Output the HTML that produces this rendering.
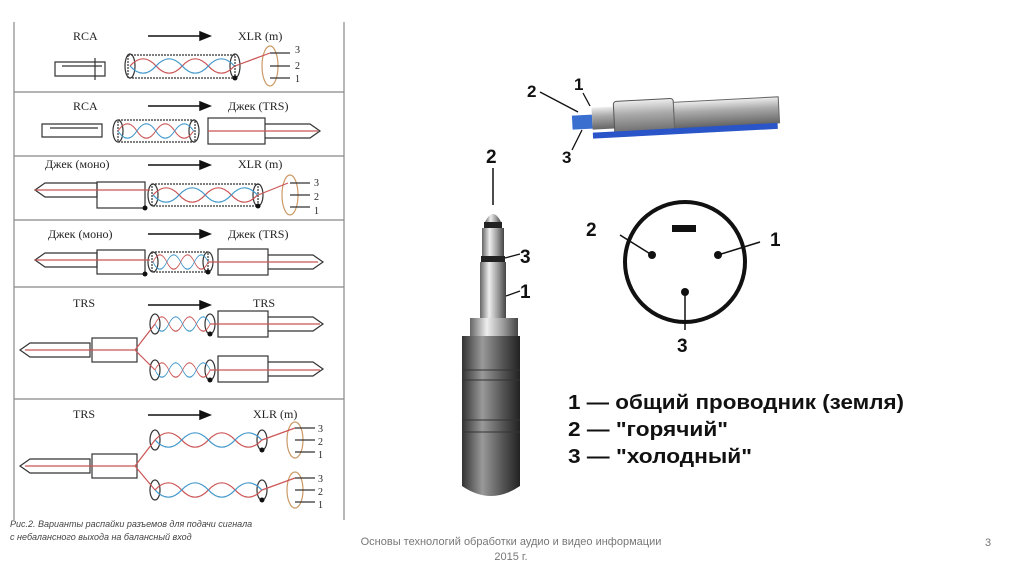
<!DOCTYPE html>
<html><head><meta charset="utf-8"><style>
body{margin:0;background:#fff;width:1024px;height:574px;overflow:hidden;font-family:"Liberation Sans",sans-serif}
svg{position:absolute;left:0;top:0}
.t{font-family:"Liberation Serif",serif;font-size:12px;fill:#222}
.n{font-family:"Liberation Sans",sans-serif;font-size:19px;font-weight:bold;fill:#111}
</style></head><body>
<svg width="1024" height="574" viewBox="0 0 1024 574">
<defs>
<linearGradient id="met" x1="0" x2="1"><stop offset="0" stop-color="#666"/><stop offset=".35" stop-color="#eee"/><stop offset=".7" stop-color="#999"/><stop offset="1" stop-color="#444"/></linearGradient>
<linearGradient id="dk" x1="0" x2="1"><stop offset="0" stop-color="#333"/><stop offset=".35" stop-color="#999"/><stop offset=".7" stop-color="#555"/><stop offset="1" stop-color="#222"/></linearGradient>
<linearGradient id="hm" x1="0" y1="0" x2="0" y2="1"><stop offset="0" stop-color="#eee"/><stop offset=".4" stop-color="#aaa"/><stop offset="1" stop-color="#666"/></linearGradient>
<g id="w1"><path d="M0,0 c10,-12 20,-12 30,0 s20,12 30,0 s20,-12 30,0 s20,12 30,0" stroke="#c55" fill="none" stroke-width="1.5"/><path d="M0,0 c10,12 20,12 30,0 s20,-12 30,0 s20,12 30,0 s20,-12 30,0" stroke="#49c" fill="none" stroke-width="1.5"/></g>
</defs>
<g stroke="#888" stroke-width="1.2">
<line x1="14" y1="22" x2="14" y2="520"/><line x1="344" y1="22" x2="344" y2="520"/>
<line x1="14" y1="92" x2="344" y2="92"/><line x1="14" y1="156" x2="344" y2="156"/>
<line x1="14" y1="220" x2="344" y2="220"/><line x1="14" y1="287" x2="344" y2="287"/>
<line x1="14" y1="399" x2="344" y2="399"/>
</g>
<g class="t">
<text x="73" y="40">RCA</text><text x="238" y="40">XLR (m)</text>
<text x="73" y="110">RCA</text><text x="228" y="110">Джек (TRS)</text>
<text x="45" y="168">Джек (моно)</text><text x="238" y="168">XLR (m)</text>
<text x="48" y="238">Джек (моно)</text><text x="228" y="238">Джек (TRS)</text>
<text x="73" y="307">TRS</text><text x="253" y="307">TRS</text>
<text x="73" y="418">TRS</text><text x="253" y="418">XLR (m)</text>
</g>
<g stroke="#111" stroke-width="1.5" fill="#111">
<line x1="148" y1="36" x2="200" y2="36"/><path d="M200,32 L210,36 L200,40Z"/>
<line x1="148" y1="106" x2="200" y2="106"/><path d="M200,102 L210,106 L200,110Z"/>
<line x1="148" y1="165" x2="200" y2="165"/><path d="M200,161 L210,165 L200,169Z"/>
<line x1="148" y1="234" x2="200" y2="234"/><path d="M200,230 L210,234 L200,238Z"/>
<line x1="148" y1="305" x2="200" y2="305"/><path d="M200,301 L210,305 L200,309Z"/>
<line x1="148" y1="415" x2="200" y2="415"/><path d="M200,411 L210,415 L200,419Z"/>
</g>
<g stroke="#333" fill="none" stroke-width="1.2">
<path d="M55,62 h50 v14 h-50 z M62,66 h40 M95,58 v22"/><rect x="128" y="55" width="107" height="23" stroke-dasharray="2,1"/>
<ellipse cx="130" cy="66" rx="5" ry="12"/><ellipse cx="235" cy="66" rx="5" ry="12"/>
<ellipse cx="270" cy="66" rx="8" ry="20" stroke="#c96"/>
<path d="M270,53 h20 M270,66 h20 M270,78 h20"/>
<path d="M42,124 h60 v13 h-60 z M50,128 h48"/><rect x="118" y="120" width="77" height="22" stroke-dasharray="2,1"/>
<ellipse cx="118" cy="131" rx="5" ry="11"/><ellipse cx="194" cy="131" rx="5" ry="11"/>
<rect x="208" y="118" width="57" height="26"/><path d="M265,124 h45 l10,7 l-10,7 h-45"/>
<path d="M35,190 l10,-7 h52 v14 h-52z"/><rect x="97" y="182" width="48" height="26"/>
<rect x="152" y="184" width="106" height="22" stroke-dasharray="2,1"/>
<ellipse cx="153" cy="195" rx="5" ry="11"/><ellipse cx="258" cy="195" rx="5" ry="11"/>
<ellipse cx="290" cy="195" rx="8" ry="20" stroke="#c96"/><path d="M290,183 h20 M290,195 h20 M290,207 h20"/>
<path d="M35,260 l10,-7 h52 v14 h-52z"/><rect x="97" y="250" width="48" height="24"/>
<rect x="152" y="252" width="56" height="20" stroke-dasharray="2,1"/>
<ellipse cx="153" cy="262" rx="5" ry="10"/><ellipse cx="208" cy="262" rx="5" ry="10"/>
<rect x="218" y="249" width="50" height="26"/><path d="M268,255 h45 l10,7 l-10,7 h-45"/>
<path d="M20,350 l10,-7 h60 v14 h-60z"/><rect x="92" y="338" width="45" height="24"/>
<rect x="218" y="311" width="50" height="26"/><path d="M268,317 h45 l10,7 l-10,7 h-45"/>
<rect x="218" y="356" width="50" height="26"/><path d="M268,362 h45 l10,7 l-10,7 h-45"/>
<ellipse cx="155" cy="324" rx="5" ry="10"/><ellipse cx="210" cy="324" rx="5" ry="10"/>
<ellipse cx="155" cy="370" rx="5" ry="10"/><ellipse cx="210" cy="370" rx="5" ry="10"/>
<path d="M20,466 l10,-7 h60 v14 h-60z"/><rect x="92" y="454" width="45" height="24"/>
<ellipse cx="155" cy="440" rx="5" ry="10"/><ellipse cx="262" cy="440" rx="5" ry="10"/>
<ellipse cx="155" cy="490" rx="5" ry="10"/><ellipse cx="262" cy="490" rx="5" ry="10"/>
<ellipse cx="295" cy="440" rx="8" ry="18" stroke="#c96"/><ellipse cx="295" cy="490" rx="8" ry="18" stroke="#c96"/>
<path d="M295,428 h20 M295,440 h20 M295,452 h20 M295,478 h20 M295,490 h20 M295,502 h20"/>
</g>
<use href="#w1" transform="translate(130,66) scale(0.87,0.8)"/>
<use href="#w1" transform="translate(118,131) scale(0.63,0.8)"/>
<use href="#w1" transform="translate(153,195) scale(0.87,0.8)"/>
<use href="#w1" transform="translate(153,262) scale(0.46,0.8)"/>
<use href="#w1" transform="translate(155,324) scale(0.46,0.8)"/>
<use href="#w1" transform="translate(155,370) scale(0.46,0.8)"/>
<use href="#w1" transform="translate(155,440) scale(0.89,0.8)"/>
<use href="#w1" transform="translate(155,490) scale(0.89,0.8)"/>
<g stroke="#c55" fill="none" stroke-width="1.2">
<path d="M25,350 h110 l20,-26 M135,350 l20,20"/><path d="M25,466 h110 l20,-26 M135,466 l20,24"/>
<path d="M210,324 h110"/><path d="M210,370 h110"/><path d="M208,131 h110"/><path d="M35,190 h115 M258,195 l30,-12"/><path d="M35,260 h115 M208,262 h110"/>
<path d="M235,66 l35,-13 M262,440 l33,-12 M262,490 l33,-12"/>
</g>
<g fill="#111"><circle cx="235" cy="78" r="2.5"/><circle cx="145" cy="208" r="2.5"/><circle cx="258" cy="206" r="2.5"/><circle cx="145" cy="274" r="2.5"/><circle cx="208" cy="272" r="2.5"/><circle cx="210" cy="334" r="2.5"/><circle cx="210" cy="380" r="2.5"/><circle cx="262" cy="450" r="2.5"/><circle cx="262" cy="500" r="2.5"/></g>
<g class="t" style="font-size:10px">
<text x="295" y="53">3</text><text x="295" y="69">2</text><text x="295" y="82">1</text>
<text x="314" y="186">3</text><text x="314" y="200">2</text><text x="314" y="214">1</text>
<text x="318" y="432">3</text><text x="318" y="445">2</text><text x="318" y="458">1</text>
<text x="318" y="482">3</text><text x="318" y="495">2</text><text x="318" y="508">1</text>
</g>
<text x="10" y="527" style="font-family:'Liberation Sans';font-style:italic;font-size:9px" fill="#444">Рис.2. Варианты распайки разъемов для подачи сигнала</text>
<text x="10" y="540" style="font-family:'Liberation Sans';font-style:italic;font-size:9px" fill="#444">с небалансного выхода на балансный вход</text>

<g transform="rotate(-3 680 115)">
<rect x="572" y="110" width="20" height="14" fill="#3a6fd0"/>
<rect x="592" y="103" width="22" height="22" fill="url(#hm)"/>
<rect x="614" y="98" width="60" height="34" rx="3" fill="url(#hm)" stroke="#555"/>
<rect x="674" y="102" width="105" height="26" fill="url(#hm)" stroke="#666"/>
<path d="M592,128 h185 v6 h-185z" fill="#2a55c8"/>
</g>
<g class="n" style="font-size:17px"><text x="527" y="97">2</text><text x="574" y="90">1</text><text x="562" y="163">3</text></g>
<g stroke="#111" stroke-width="1.3"><line x1="540" y1="92" x2="578" y2="112"/><line x1="583" y1="93" x2="590" y2="106"/><line x1="572" y1="150" x2="582" y2="130"/></g>

<text class="n" x="486" y="163">2</text><line x1="493" y1="168" x2="493" y2="205" stroke="#111" stroke-width="1.5"/>
<path d="M485,222 q8,-16 16,0 z" fill="url(#met)"/>
<rect x="484" y="222" width="18" height="6" fill="#222"/>
<rect x="482" y="228" width="22" height="28" fill="url(#met)"/>
<rect x="481" y="256" width="24" height="6" fill="#222"/>
<rect x="480" y="262" width="26" height="56" fill="url(#met)"/>
<rect x="470" y="318" width="48" height="18" fill="url(#met)"/>
<path d="M462,336 h58 v150 q-29,20 -58,0 z" fill="url(#dk)"/>
<g stroke="#333" stroke-width="1"><line x1="462" y1="370" x2="520" y2="370"/><line x1="462" y1="380" x2="520" y2="380"/><line x1="462" y1="420" x2="520" y2="420"/><line x1="462" y1="432" x2="520" y2="432"/></g>
<text class="n" x="520" y="263">3</text><text class="n" x="520" y="298">1</text>
<g stroke="#111" stroke-width="1.3"><line x1="505" y1="258" x2="520" y2="254"/><line x1="506" y1="296" x2="520" y2="291"/></g>

<circle cx="685" cy="262" r="60" fill="none" stroke="#111" stroke-width="4"/>
<rect x="672" y="225" width="24" height="7" fill="#111"/>
<circle cx="652" cy="255" r="4" fill="#111"/><circle cx="718" cy="255" r="4" fill="#111"/><circle cx="685" cy="292" r="4" fill="#111"/>
<g stroke="#111" stroke-width="1.5"><line x1="620" y1="235" x2="652" y2="255"/><line x1="760" y1="242" x2="718" y2="255"/><line x1="685" y1="292" x2="685" y2="330"/></g>
<text class="n" x="586" y="236">2</text><text class="n" x="770" y="246">1</text><text class="n" x="677" y="352">3</text>

<text class="n" x="568" y="409" style="font-size:20px" textLength="336" lengthAdjust="spacingAndGlyphs">1 — общий проводник (земля)</text>
<text class="n" x="568" y="436" style="font-size:20px" textLength="160" lengthAdjust="spacingAndGlyphs">2 — "горячий"</text>
<text class="n" x="568" y="463" style="font-size:20px" textLength="184" lengthAdjust="spacingAndGlyphs">3 — "холодный"</text>

<text x="511" y="545" text-anchor="middle" font-size="11" fill="#777">Основы технологий обработки аудио и видео информации</text>
<text x="511" y="560" text-anchor="middle" font-size="11" fill="#777">2015 г.</text>
<text x="985" y="546" font-size="11" fill="#777">3</text>
</svg>
</body></html>
